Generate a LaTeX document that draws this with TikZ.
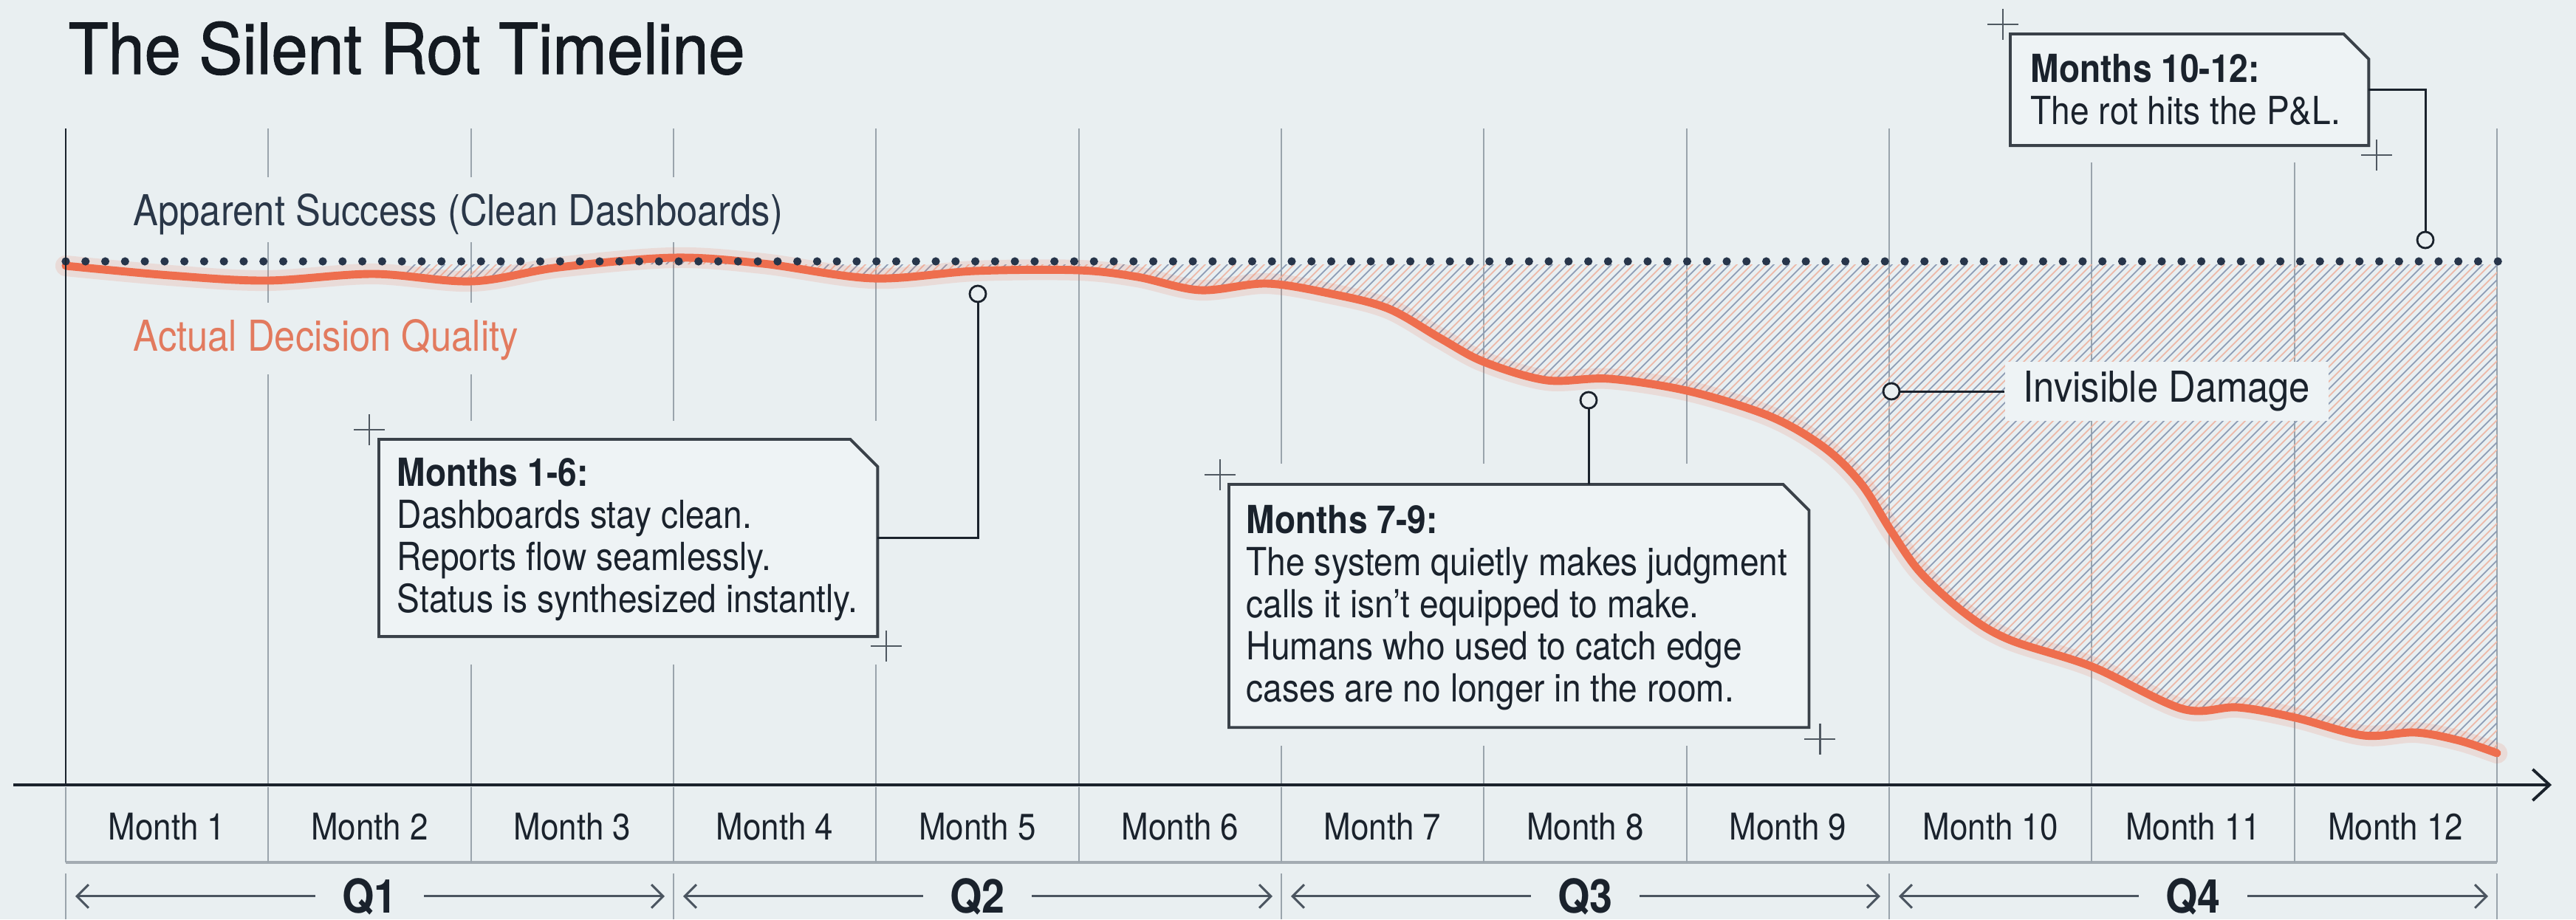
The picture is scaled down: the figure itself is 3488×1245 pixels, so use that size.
\documentclass[tikz,border=0pt]{standalone}
\usepackage{fontspec}
\setmainfont{TeX Gyre Heros}[FakeStretch=0.88]
\newfontfamily\titlefont{TeX Gyre Heros}[FakeStretch=0.93, FakeBold=1.2]
\usetikzlibrary{arrows.meta,calc}

\definecolor{bgc}{HTML}{E9EFF1}
\definecolor{boxbg}{HTML}{EEF3F5}
\definecolor{ink}{HTML}{1A222C}
\definecolor{titlec}{HTML}{141A21}
\definecolor{navy}{HTML}{2A3748}
\definecolor{dotc}{HTML}{27354A}
\definecolor{gridc}{HTML}{9AA4AC}
\definecolor{coral}{HTML}{EE6E4E}
\definecolor{coraltext}{HTML}{E27A5E}
\definecolor{hatchblue}{HTML}{8E9DB5}
\definecolor{hatchpink}{HTML}{EDB9A9}
\definecolor{framec}{HTML}{3A4149}
\definecolor{rowline}{HTML}{A3ABB2}
\definecolor{crossc}{HTML}{4F5861}
\definecolor{qarrowc}{HTML}{4B5560}

\tikzset{
  gridline/.style={draw=gridc, line width=0.55pt},
  bigtext/.style={font=\fontsize{16.4}{19}\selectfont, inner sep=0pt, anchor=base west},
  boxtext/.style={font=\fontsize{14.9}{16.2}\selectfont, align=left, inner sep=0pt, anchor=north west, text=ink},
  boxframe/.style={inner sep=0pt, outer sep=0pt, anchor=north west},
  frameline/.style={draw=framec, fill=boxbg, line width=1.1pt, line join=miter},
  leader/.style={draw=ink, line width=0.85pt},
  pinmark/.style={circle, draw=ink, fill=bgc, line width=0.8pt, minimum size=0.22cm, inner sep=0pt},
  crossline/.style={draw=crossc, line width=0.6pt},
  monthlbl/.style={font=\fontsize{14.2}{16}\selectfont, text=ink, anchor=base, inner sep=0pt},
  qlbl/.style={font=\bfseries\fontsize{18}{20}\selectfont, text=ink, anchor=base, inner xsep=0.36cm, inner ysep=0pt},
  qarrow/.style={draw=qarrowc, line width=0.85pt, -{Straight Barb[length=4.5pt, width=9pt]}},
  axisline/.style={draw=ink, line width=1.1pt},
  pics/crossmark/.style={code={\draw[crossline] (-21,0) -- (21,0) (0,-21) -- (0,21);}},
  decisionpath/.style={insert path={plot[smooth, tension=0.55] coordinates {
    (89,360) (230,373) (361,380) (505,371) (639,381) (757,362) (912,349)
    (1033,357) (1182,377) (1320,367) (1460,366) (1540,375) (1625,393)
    (1715,384) (1803,398) (1880,418) (1950,458) (2009,490) (2094,515)
    (2179,513) (2288,530) (2397,564) (2470,606) (2520,655) (2560,718)
    (2600,775) (2660,830) (2720,866) (2833,903) (2955,960) (3030,958)
    (3108,972) (3200,996) (3270,992) (3330,1003) (3381,1020)}}},
}

\begin{document}
\begin{tikzpicture}[x=0.01cm, y=-0.01cm]
  % canvas
  \useasboundingbox (0,0) rectangle (3488,1245);
  \fill[bgc] (0,0) rectangle (3488,1245);

  % month grid
  \foreach \k in {1,...,12}
    \draw[gridline] ({89+274.333*\k},174) -- ({89+274.333*\k},1063);

  % clear space behind labels and callouts
  \fill[bgc] (160,240) rectangle (1075,328);
  \fill[bgc] (160,410) rectangle (735,507);
  \fill[bgc] (490,570) rectangle (1215,900);
  \fill[bgc] (1640,628) rectangle (2480,1010);
  \fill[bgc] (2700,20) rectangle (3230,220);

  % invisible damage hatch between the two lines
  \begin{scope}
    \clip[decisionpath] -- (3381,358) -- (89,358) -- cycle;
    \foreach \c in {0,...,360} {
      \ifodd\c
        \draw[hatchpink, line width=0.5pt] ({-160+10*\c},1080) -- ++(760,-760);
      \else
        \draw[hatchblue, line width=0.5pt] ({-160+10*\c},1080) -- ++(760,-760);
      \fi
    }
  \end{scope}

  % invisible damage label
  \node[fill=boxbg, inner xsep=0.25cm, inner ysep=0.125cm, anchor=west,
        font=\fontsize{16.4}{19}\selectfont, text=ink] (dmg) at (2714,530) {Invisible Damage};
  \node[pinmark] (cd) at (2561,530) {};
  \draw[leader] (cd.east) -- (dmg.west);

  % series labels
  \node[bigtext, text=navy] (apparent) at (180,305) {Apparent Success (Clean Dashboards)};
  \node[bigtext, text=coraltext] (actual) at (180,475) {Actual Decision Quality};

  % actual decision quality
  \draw[coral, opacity=0.15, line width=8pt, line cap=round] [decisionpath];
  \draw[coral, line width=3.1pt, line cap=round, line join=round] [decisionpath];

  % apparent success (dotted)
  \foreach \i in {0,...,123}
    \fill[dotc] ({89+26.774*\i},354) circle (0.056cm);

  % callout 1
  \node[boxframe, minimum width=6.75cm, minimum height=2.67cm] (f1) at (513,595) {};
  \draw[frameline] (f1.north west) -- ($(f1.north east)+(-37,0)$) -- ($(f1.north east)+(0,37)$)
        -- (f1.south east) -- (f1.south west) -- cycle;
  \node[boxtext] (t1) at (537,620) {\textbf{Months 1-6:}\\Dashboards stay clean.\\Reports flow seamlessly.\\Status is synthesized instantly.};
  \node[pinmark] (c1) at (1324,398) {};
  \draw[leader] (f1.east) -| (c1.south);
  \pic at ($(f1.north west)+(-13,-13)$) {crossmark};
  \pic at ($(f1.south east)+(12,13)$) {crossmark};

  % callout 2
  \node[boxframe, minimum width=7.85cm, minimum height=3.29cm] (f2) at (1664,656) {};
  \draw[frameline] (f2.north west) -- ($(f2.north east)+(-35,0)$) -- ($(f2.north east)+(0,35)$)
        -- (f2.south east) -- (f2.south west) -- cycle;
  \node[boxtext] (t2) at (1687,684) {\textbf{Months 7-9:}\\The system quietly makes judgment\\calls it isn't equipped to make.\\Humans who used to catch edge\\cases are no longer in the room.};
  \node[pinmark] (c2) at (2151,542) {};
  \draw[leader] (c2.south) -- (c2.south |- f2.north);
  \pic at ($(f2.north west)+(-12,-13)$) {crossmark};
  \pic at ($(f2.south east)+(15,16)$) {crossmark};

  % callout 3
  \node[boxframe, minimum width=4.85cm, minimum height=1.51cm] (f3) at (2722,46) {};
  \draw[frameline] (f3.north west) -- ($(f3.north east)+(-34,0)$) -- ($(f3.north east)+(0,34)$)
        -- (f3.south east) -- (f3.south west) -- cycle;
  \node[boxtext] (t3) at (2749,73) {\textbf{Months 10-12:}\\The rot hits the P\&L.};
  \node[pinmark] (c3) at (3284,325) {};
  \draw[leader] (f3.east) -| (c3.north);
  \pic at ($(f3.north west)+(-10,-13)$) {crossmark};
  \pic at ($(f3.south east)+(11,13)$) {crossmark};

  % axes
  \draw[ink, line width=0.85pt] (89,174) -- (89,1063);
  \draw[axisline, -{Straight Barb[length=6.5pt, width=12pt]}] (18,1063) -- (3455,1063);

  % month row
  \draw[rowline, line width=0.9pt] (89,1168) -- (3381,1168);
  \foreach \k in {0,...,12}
    \draw[gridline] ({89+274.333*\k},1066) -- ({89+274.333*\k},1168);
  \foreach \k in {1,...,12}
    \node[monthlbl] (m\k) at ({89+274.333*(\k-0.5)},1137) {Month \k};

  % quarter row
  \foreach \q in {0,...,4}
    \draw[gridline] ({89+823*\q},1183) -- ({89+823*\q},1245);
  \foreach \q in {1,...,4} {
    \node[qlbl] (q\q) at ({89+823*(\q-1)+411.5},1236) {Q\q};
    \coordinate (ql\q) at ({89+823*(\q-1)+13},1212);
    \coordinate (qr\q) at ({89+823*\q-12},1212);
    \draw[qarrow] (q\q.west) -- (ql\q |- q\q.west);
    \draw[qarrow] (q\q.east) -- (qr\q |- q\q.east);
  }

  % title
  \node[anchor=base west, inner sep=0pt, font={\titlefont\fontsize{27}{30}\selectfont}, text=titlec]
    (title) at (92,100) {The Silent Rot Timeline};
\end{tikzpicture}
\end{document}
